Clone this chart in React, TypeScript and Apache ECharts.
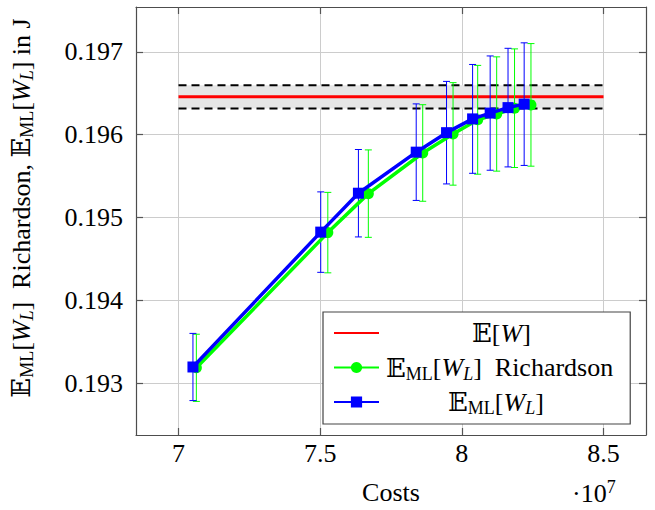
import React, { useEffect, useRef } from "react";
import * as echarts from "echarts";

// Costs in units of 1e7
const costsML = [7.051, 7.502, 7.635, 7.839, 7.946, 8.038, 8.1, 8.163, 8.22];
const valuesML = [0.1932, 0.194826, 0.195295, 0.19579, 0.196025, 0.196191, 0.196261, 0.196327, 0.196369];
const errorsML = [0.000405, 0.000485, 0.000527, 0.000582, 0.000618, 0.000656, 0.000689, 0.000715, 0.000739];

const costsRich = [7.063, 7.527, 7.67, 7.862, 7.969, 8.056, 8.123, 8.186, 8.244];
const valuesRich = [0.19319, 0.19482, 0.19529, 0.19578, 0.19601, 0.19618, 0.19625, 0.19632, 0.19636];
const errorsRich = [0.000405, 0.000485, 0.000527, 0.000582, 0.000618, 0.000656, 0.000689, 0.000715, 0.000739];

const refCosts = [7, 8.5];
const refValue = 0.196457;
const refLower = 0.196316;
const refUpper = 0.196597;

const xTicks = [7, 7.5, 8, 8.5];
const yTicks = [0.193, 0.194, 0.195, 0.196, 0.197];

const nameRef = "𝔼[W]";
const nameRich = "𝔼ML[WL] Richardson";
const nameML = "𝔼ML[WL]";

const SERIF = "'Liberation Serif', 'Times New Roman', 'DejaVu Serif', serif";
const EFONT = "'DejaVu Serif', 'DejaVu Sans', 'Noto Sans', serif";

const richStyles = {
  m: { fontFamily: SERIF, fontSize: 26, lineHeight: 30, color: "#000" },
  E: { fontFamily: EFONT, fontSize: 26, lineHeight: 30, color: "#000" },
  it: { fontFamily: SERIF, fontSize: 26, lineHeight: 30, fontStyle: "italic", color: "#000" },
  sub: { fontFamily: SERIF, fontSize: 18, lineHeight: 14, verticalAlign: "bottom", color: "#000" },
  subit: { fontFamily: SERIF, fontSize: 18, lineHeight: 14, verticalAlign: "bottom", fontStyle: "italic", color: "#000" },
  sup: { fontFamily: SERIF, fontSize: 18, lineHeight: 14, verticalAlign: "top", color: "#000" },
  sp88: { width: 88, lineHeight: 30 },
  sp64: { width: 64, lineHeight: 30 },
  sp2: { width: 2, lineHeight: 30 },
};

const EML = "{E|𝔼}{sub|ML}{m|[}{it|W}{subit|L}{m|]}";
const legendLabels: Record<string, string> = {
  [nameRef]: "{sp88|\u00a0}{E|𝔼}{m|[}{it|W}{m|]}",
  [nameRich]: "{sp2|\u00a0}" + EML + "{m|\u2002Richardson}",
  [nameML]: "{sp64|\u00a0}" + EML,
};

function errorSeries(costs: number[], values: number[], errors: number[], color: string) {
  return {
    type: "custom",
    silent: true,
    z: 3,
    data: costs.map((c, i) => [c, values[i] - errors[i], values[i] + errors[i]]),
    encode: { x: 0, y: [1, 2] },
    renderItem: (_params: any, api: any) => {
      const lo = api.coord([api.value(0), api.value(1)]);
      const hi = api.coord([api.value(0), api.value(2)]);
      const w = 3.5;
      const style = { stroke: color, lineWidth: 1 };
      return {
        type: "group",
        children: [
          { type: "line", shape: { x1: lo[0], y1: lo[1], x2: hi[0], y2: hi[1] }, style },
          { type: "line", shape: { x1: lo[0] - w, y1: lo[1], x2: lo[0] + w, y2: lo[1] }, style },
          { type: "line", shape: { x1: hi[0] - w, y1: hi[1], x2: hi[0] + w, y2: hi[1] }, style },
        ],
      };
    },
  };
}

export default function App() {
  const ref = useRef<HTMLDivElement>(null);
  useEffect(() => {
    if (!ref.current) return;
    const chart = echarts.init(ref.current, undefined, { renderer: "svg" });
    const xMin = 6.85, xMax = 8.65, yMin = 0.19238, yMax = 0.19754;
    const frame = { show: true, lineStyle: { color: "#4d4d4d", width: 1.2 } };
    const tick = (vals: number[]) => ({ show: true, inside: true, length: 7, customValues: vals, lineStyle: { color: "#555", width: 1.2 } });
    const option: any = {
      animation: false,
      backgroundColor: "#fff",
      grid: { left: 129, right: 9, top: 7, bottom: 74 },
      xAxis: [
        {
          type: "value", min: xMin, max: xMax, position: "bottom",
          axisLine: frame, axisTick: tick(xTicks),
          axisLabel: { customValues: xTicks, fontFamily: SERIF, fontSize: 26, color: "#000", margin: 5, formatter: (v: number) => String(v) },
          splitLine: { show: true, lineStyle: { color: "#cccccc", width: 1 } },
          name: "Costs", nameLocation: "middle", nameGap: 44,
          nameTextStyle: { fontFamily: SERIF, fontSize: 26, color: "#000" },
        },
        {
          type: "value", min: xMin, max: xMax, position: "top",
          axisLine: frame, axisTick: tick(xTicks), axisLabel: { show: false }, splitLine: { show: false },
        },
      ],
      yAxis: [
        {
          type: "value", min: yMin, max: yMax, position: "left",
          axisLine: frame, axisTick: tick(yTicks),
          axisLabel: { customValues: yTicks, fontFamily: SERIF, fontSize: 26, color: "#000", margin: 13, formatter: (v: number) => v.toFixed(3) },
          splitLine: { show: true, lineStyle: { color: "#cccccc", width: 1 } },
          name: EML + "{m|\u2002Richardson, }" + EML + "{m| in J}",
          nameLocation: "middle", nameRotate: 90, nameGap: 100,
          nameTextStyle: { fontFamily: SERIF, fontSize: 26, color: "#000", padding: [0, 0, 0, 26], rich: richStyles },
        },
        {
          type: "value", min: yMin, max: yMax, position: "right",
          axisLine: frame, axisTick: tick(yTicks), axisLabel: { show: false }, splitLine: { show: false },
        },
      ],
      legend: {
        data: [{ name: nameRef, itemStyle: { opacity: 0 } }, nameRich, nameML],
        orient: "vertical",
        left: 323, top: 312,
        padding: [6, 17, 7, 10],
        itemGap: 4.5,
        itemWidth: 45, itemHeight: 14,
        backgroundColor: "#fff", borderColor: "#444", borderWidth: 1.2, borderRadius: 0,
        formatter: (name: string) => legendLabels[name],
        textStyle: { fontFamily: SERIF, fontSize: 26, color: "#000", lineHeight: 30, rich: richStyles },
      },
      series: [
        {
          name: nameRef, type: "line", symbol: "none", z: 2,
          data: refCosts.map((c) => [c, refValue]),
          lineStyle: { color: "#ff0000", width: 3 }, itemStyle: { color: "#ff0000" },
          markArea: {
            silent: true,
            itemStyle: { color: "#e6e6e6" },
            data: [[{ xAxis: refCosts[0], yAxis: refLower }, { xAxis: refCosts[1], yAxis: refUpper }]],
          },
        },
        {
          name: "lower", type: "line", symbol: "none", z: 2,
          data: refCosts.map((c) => [c, refLower]),
          lineStyle: { color: "#000", width: 2, type: [8, 5] },
        },
        {
          name: "upper", type: "line", symbol: "none", z: 2,
          data: refCosts.map((c) => [c, refUpper]),
          lineStyle: { color: "#000", width: 2, type: [8, 5] },
        },
        errorSeries(costsRich, valuesRich, errorsRich, "#00ff00"),
        errorSeries(costsML, valuesML, errorsML, "#0000ff"),
        {
          name: nameRich, type: "line", symbol: "circle", symbolSize: 11, z: 4,
          data: costsRich.map((c, i) => [c, valuesRich[i]]),
          lineStyle: { color: "#00ff00", width: 3.5 }, itemStyle: { color: "#00ff00" },
        },
        {
          name: nameML, type: "line", symbol: "rect", symbolSize: 11, z: 5,
          data: costsML.map((c, i) => [c, valuesML[i]]),
          lineStyle: { color: "#0000ff", width: 3.5 }, itemStyle: { color: "#0000ff" },
        },
      ],
      graphic: [
        {
          type: "text", left: 572, top: 478,
          style: { text: "{m|·10}{sup|7}", rich: richStyles },
        },
      ],
    };
    chart.setOption(option);
    return () => chart.dispose();
  }, []);
  return <div ref={ref} style={{ position: "fixed", left: 0, top: 0, width: 655, height: 510 }} />;
}
